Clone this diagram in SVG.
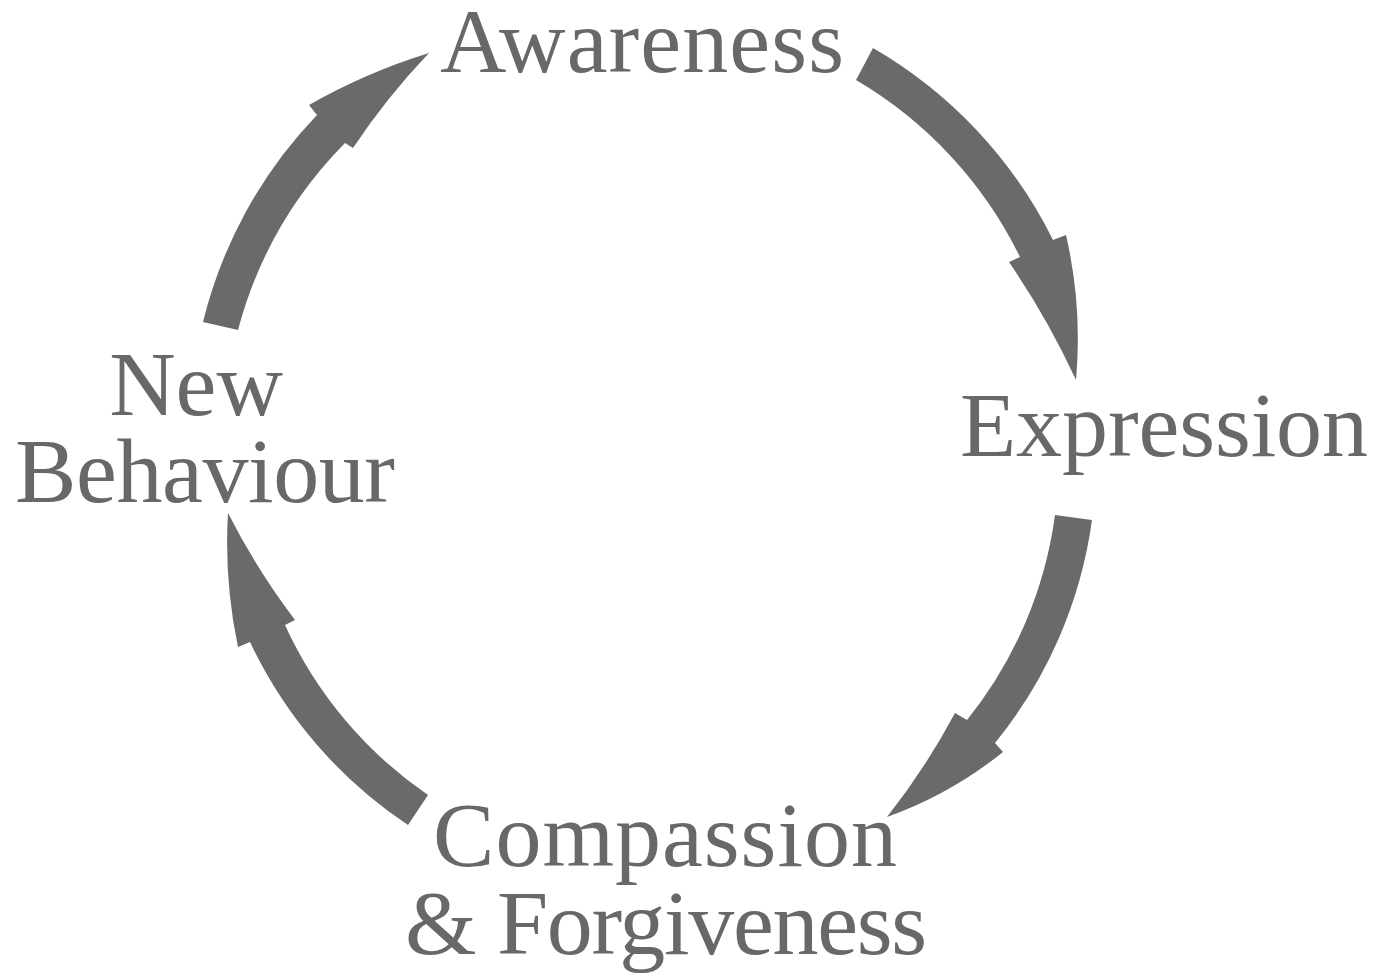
<svg xmlns="http://www.w3.org/2000/svg" width="1389" height="977" viewBox="0 0 1389 977">
<style>
.lbl{font-family:"Liberation Serif","Times New Roman",serif;font-size:92px;fill:#686868;text-anchor:middle}
.arr{fill:#6a6a6a;stroke:none}
</style>
<rect width="1389" height="977" fill="#ffffff"/>
<g id="connectors">
<path id="a1" class="arr" d="M873,48 A455,455 0 0 1 1053,240 L1066,235 A460,460 0 0 1 1076,380 A800,800 0 0 0 1009,262 L1020,257 A418,418 0 0 0 856,80 Z"/>
<path id="a2" class="arr" d="M1092,520 A450,450 0 0 1 995,743 L1003,752 A400,400 0 0 1 887,817 A700,700 0 0 0 955,713 L967,720 A415,415 0 0 0 1055,515 Z"/>
<path id="a3" class="arr" d="M408,825 A450,450 0 0 1 250,642 L238,647 A500,500 0 0 1 228,513 A700,700 0 0 0 295,620 L285,625 A415,415 0 0 0 428,795 Z"/>
<path id="a4" class="arr" d="M203,322 A455,455 0 0 1 317,115 L309,105 A600,600 0 0 1 429,53 A700,700 0 0 0 353,148 L345,143 A420,420 0 0 0 238,330 Z"/>
</g>
<g id="awareness"><text class="lbl" x="642" y="72" textLength="404" lengthAdjust="spacing">Awareness</text></g>
<g id="expression"><text class="lbl" x="1164" y="456" textLength="408" lengthAdjust="spacing">Expression</text></g>
<g id="compassion"><text class="lbl" x="665" y="866" textLength="464" lengthAdjust="spacing">Compassion</text><text class="lbl" x="666" y="954" textLength="522" lengthAdjust="spacing">&amp; Forgiveness</text></g>
<g id="newbehaviour"><text class="lbl" x="196" y="415">New</text><text class="lbl" x="205" y="502" textLength="380" lengthAdjust="spacing">Behaviour</text></g>
</svg>
